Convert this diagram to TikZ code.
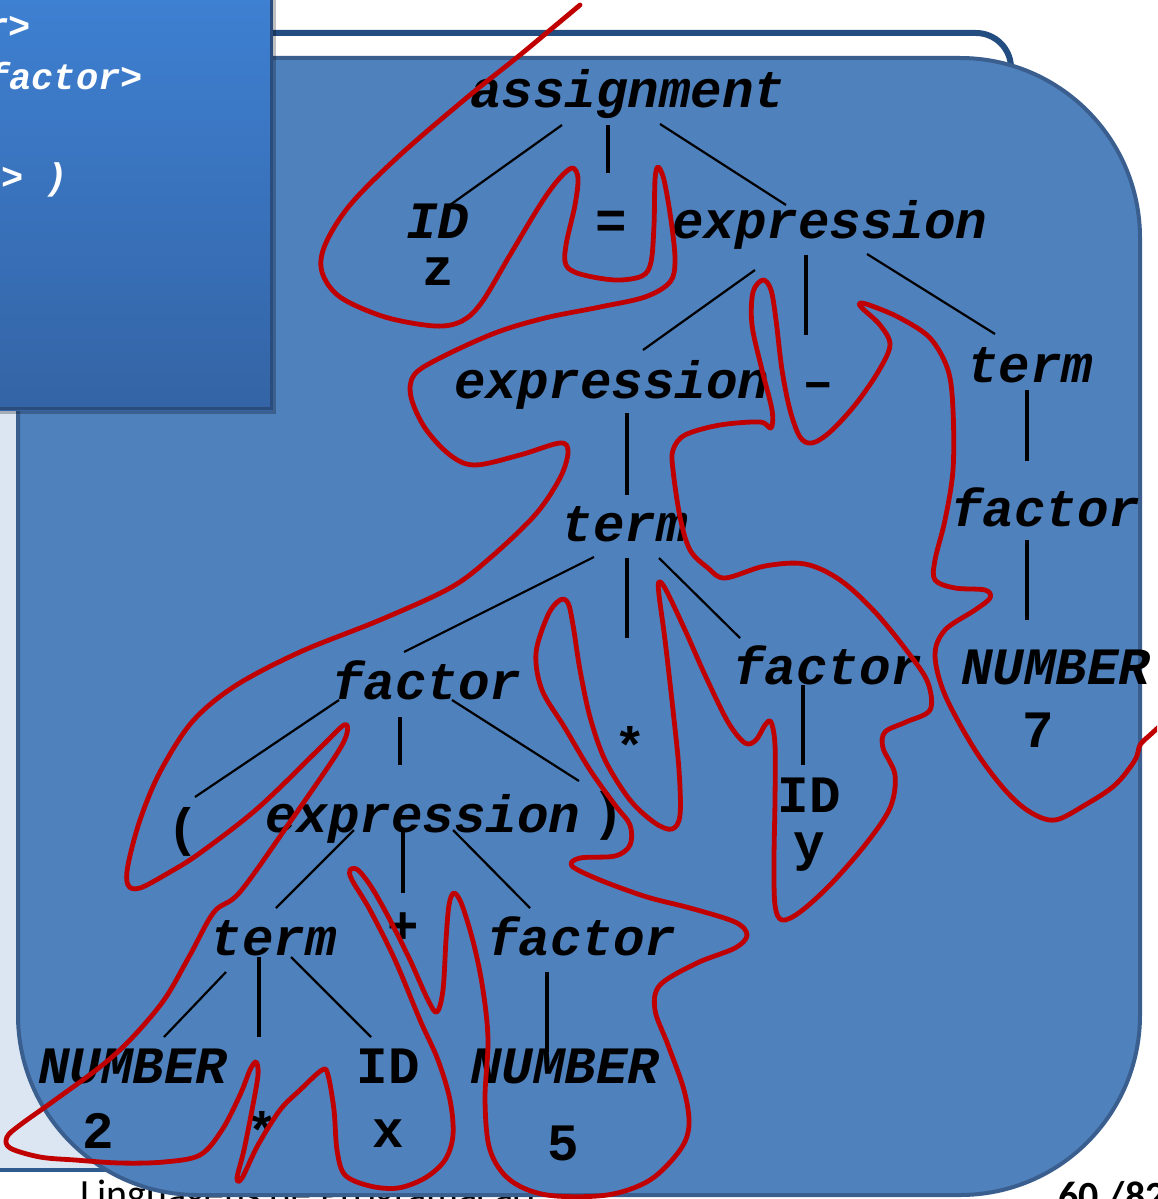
\documentclass[tikz,border=0pt]{standalone}
\usepackage{fontspec}
\setmonofont{Liberation Mono}
\newfontfamily\footfont{Carlito}
\definecolor{shapefill}{HTML}{4F81BD}
\definecolor{shapeedge}{HTML}{3A5F8F}
\definecolor{outline}{HTML}{234C80}
\definecolor{lightbg}{HTML}{DCE6F2}
\definecolor{poptop}{HTML}{3E80D2}
\definecolor{popbot}{HTML}{3464A5}
\definecolor{popedge}{HTML}{2A4D7E}
\definecolor{redline}{HTML}{C00000}
\definecolor{footline}{HTML}{2F5B8F}
\begin{document}
\begin{tikzpicture}[x=1pt,y=-1pt,
  lab/.style={font=\fontsize{52.5}{60}\selectfont\ttfamily\bfseries\itshape, inner sep=0pt, anchor=base, text=black, text height=30pt, text depth=8pt},
  labu/.style={font=\fontsize{52.5}{60}\selectfont\ttfamily\bfseries, inner sep=0pt, anchor=base, text=black, text height=30pt, text depth=8pt},
  poptext/.style={font=\fontsize{37}{44}\selectfont\ttfamily\bfseries\itshape, inner sep=0pt, anchor=base east, text=white},
  foot/.style={font=\fontsize{40}{48}\selectfont\footfont, inner sep=0pt, anchor=base west, text=black},
  edge/.style={line width=2.2pt, black},
  vedge/.style={line width=3.6pt, black},
  frontier/.style={line width=4.8pt, draw=redline, line join=round, line cap=round},
  ]
\useasboundingbox (0,0) rectangle (1157,1199);
\clip (0,0) rectangle (1157,1199);
\fill[white] (0,0) rectangle (1157,1199);

% slide placeholder at left
\fill[lightbg] (0,400) rectangle (400,1168);
\draw[footline, line width=4pt] (0,1170) -- (400,1170);

% footer texts (partly hidden)
\node[foot] (foottext) at (80,1207) {Linguagens de Programação};
\node[foot, font=\fontsize{40}{48}\selectfont\footfont\bfseries] (pagenum) at (1058,1209) {60 /82};

% outline shape behind
\draw[outline, line width=6pt] (250,33) -- (976,33) arc[start angle=-90, end angle=0, radius=35] -- (1011,140);

% main rounded shape
\draw[fill=shapefill, draw=shapeedge, line width=4pt, rounded corners=180pt] (18,58) rectangle (1140,1195);

% popup box
\fill[black, opacity=0.25] (-5,-5) rectangle (276,414);
\shade[top color=poptop, bottom color=popbot] (-5,-5) rectangle (272,410);
\draw[popedge, line width=3pt] (-5,408) -- (271,408) -- (271,-5);
\begin{scope}
\clip (-5,-5) rectangle (269,406);
\node[poptext] (p1) at (31,39) {r>};
\node[poptext] (p2) at (143,89) {factor>};
\node[poptext] (p3) at (68,189) {n> )};
\end{scope}

% tree labels
\node[lab]  (assign) at (628,107) {assignment};
\node[lab]  (id1)    at (438,238) {ID};
\node[labu, text height=22pt, text depth=0pt] (zz) at (438,285) {z};
\node[labu] (eq)     at (611,238) {=};
\node[lab]  (expA)   at (830,238) {expression};
\node[lab]  (expB)   at (612,398) {expression};
\node[labu] (minus)  at (818,398) {\textendash};
\node[lab]  (termA)  at (1030,382) {term};
\node[lab]  (termB)  at (625,541) {term};
\node[lab]  (factA)  at (1046,526) {factor};
\node[lab]  (factB)  at (427,699) {factor};
\node[labu] (starA)  at (630,764) {*};
\node[lab]  (factC)  at (828,684) {factor};
\node[lab]  (numA)   at (1056,684) {NUMBER};
\node[labu] (seven)  at (1038,747) {7};
\node[labu] (lpar)   at (183,845) {(};
\node[lab]  (expC)   at (423,832) {expression};
\node[labu] (rpar)   at (608,829) {)};
\node[labu] (id2)    at (809,812) {ID};
\node[labu, text height=22pt] (yy) at (809,860) {y};
\node[lab]  (termC)  at (274,955) {term};
\node[labu] (plus)   at (403,943) {+};
\node[lab]  (factD)  at (582,955) {factor};
\node[lab]  (numB)   at (133,1083) {NUMBER};
\node[labu] (two)    at (98,1148) {2};
\node[labu] (starB)  at (262,1149) {*};
\node[labu] (id3)    at (388,1083) {ID};
\node[labu, text height=22pt] (xx) at (388,1147) {x};
\node[lab]  (numC)   at (565,1083) {NUMBER};
\node[labu] (five)   at (563,1160) {5};

% connector end points
\coordinate (a1) at (562,125); \coordinate (b1) at (450,205);
\coordinate (a2) at (608,125); \coordinate (b2) at (608,173);
\coordinate (a3) at (660,124); \coordinate (b3) at (786,205);
\coordinate (a4) at (755,270); \coordinate (b4) at (643,350);
\coordinate (a5) at (806,255); \coordinate (b5) at (806,335);
\coordinate (a6) at (867,254); \coordinate (b6) at (995,334);
\coordinate (a7) at (1027,390); \coordinate (b7) at (1027,461);
\coordinate (a8) at (1027,540); \coordinate (b8) at (1027,620);
\coordinate (a9) at (627,413); \coordinate (b9) at (627,495);
\coordinate (a10) at (594,557); \coordinate (b10) at (404,652);
\coordinate (a11) at (627,558); \coordinate (b11) at (627,638);
\coordinate (a12) at (659,558); \coordinate (b12) at (740,638);
\coordinate (a13) at (339,700); \coordinate (b13) at (195,797);
\coordinate (a14) at (400,717); \coordinate (b14) at (400,765);
\coordinate (a15) at (452,700); \coordinate (b15) at (579,781);
\coordinate (a16) at (803,685); \coordinate (b16) at (803,765);
\coordinate (a17) at (354,830); \coordinate (b17) at (276,908);
\coordinate (a18) at (403,830); \coordinate (b18) at (403,893);
\coordinate (a19) at (453,830); \coordinate (b19) at (530,908);
\coordinate (a20) at (226,972); \coordinate (b20) at (164,1037);
\coordinate (a21) at (259,957); \coordinate (b21) at (259,1037);
\coordinate (a22) at (291,957); \coordinate (b22) at (371,1037);
\coordinate (a23) at (547,972); \coordinate (b23) at (547,1052);

\draw[edge] (a1) -- (b1);
\draw[vedge] (a2) -- (b2);
\draw[edge] (a3) -- (b3);
\draw[edge] (a4) -- (b4);
\draw[vedge] (a5) -- (b5);
\draw[edge] (a6) -- (b6);
\draw[vedge] (a7) -- (b7);
\draw[vedge] (a8) -- (b8);
\draw[vedge] (a9) -- (b9);
\draw[edge] (a10) -- (b10);
\draw[vedge] (a11) -- (b11);
\draw[edge] (a12) -- (b12);
\draw[edge] (a13) -- (b13);
\draw[vedge] (a14) -- (b14);
\draw[edge] (a15) -- (b15);
\draw[vedge] (a16) -- (b16);
\draw[edge] (a17) -- (b17);
\draw[vedge] (a18) -- (b18);
\draw[edge] (a19) -- (b19);
\draw[edge] (a20) -- (b20);
\draw[vedge] (a21) -- (b21);
\draw[edge] (a22) -- (b22);
\draw[vedge] (a23) -- (b23);

% red frontier curve
\draw[frontier] plot[smooth, tension=0.55] coordinates {
(580,5) (520,55) (470,95) (400,155) (350,205) (325,245) (322,272) (340,297)
(385,317) (435,326) (462,321) (482,302) (510,255) (540,205) (558,180) (572,168)
(578,178) (575,205) (566,245) (566,265) (580,274) (615,280) (642,276) (651,262)
(654,225) (655,180) (658,167) (664,180) (671,220) (675,260) (670,282) (645,297)
(600,307) (545,318) (495,333) (440,358) (414,375) (411,397) (425,428) (450,455)
(475,465) (520,455) (560,443) (568,452) (560,478) (535,515) (490,558) (450,588)
(380,620) (300,652) (235,686) (192,722) (160,772) (140,820) (128,865) (128,885)
(140,888) (170,872) (200,853) (258,808) (320,748) (344,725) (347,733) (336,755)
(290,822) (240,892) (214,912) (190,955) (164,1000) (130,1040) (100,1067) (55,1100)
(20,1125) (7,1137) (10,1148) (40,1157) (75,1160) (120,1163) (164,1162) (200,1155)
(222,1130) (240,1095) (250,1070) (256,1062) (258,1075) (252,1110) (244,1150) (237,1178)
(242,1178) (258,1145) (280,1110) (300,1090) (322,1070) (328,1075) (334,1110) (337,1150)
(345,1175) (370,1186) (398,1188) (425,1178) (445,1160) (453,1135) (450,1100) (438,1060)
(420,1020) (395,960) (370,910) (352,880) (350,870) (358,870) (372,888) (390,920)
(410,960) (428,1000) (437,1012) (443,990) (446,940) (449,905) (454,893) (462,905)
(474,945) (483,990) (488,1040) (485,1100) (490,1150) (510,1180) (547,1195) (607,1195)
(650,1180) (680,1150) (689,1125) (684,1090) (668,1045) (655,1010) (660,985) (697,963)
(735,948) (747,935) (735,922) (690,908) (647,897) (600,880) (572,866) (580,858)
(615,856) (630,845) (630,825) (615,805) (590,770) (565,728) (542,690) (536,653)
(548,615) (560,600) (568,603) (573,625) (580,670) (590,717) (605,760) (630,800)
(655,823) (672,829) (680,815) (679,770) (673,710) (665,640) (659,595) (659,582)
(666,590) (685,630) (705,675) (728,722) (745,743) (756,740) (765,725) (771,722)
(775,745) (775,800) (774,860) (775,905) (782,920) (800,912) (830,885) (865,845)
(890,808) (895,775) (883,748) (885,732) (906,722) (930,710) (928,683) (910,655)
(875,612) (840,580) (805,564) (765,566) (725,578) (708,568) (690,550) (680,517)
(673,470) (673,450) (685,435) (720,425) (760,422) (771,428) (772,410) (762,370)
(752,325) (753,292) (763,280) (771,290) (776,320) (782,370) (790,410) (800,437)
(812,443) (830,432) (855,405) (878,372) (890,345) (880,325) (862,308) (860,303)
(872,306) (900,318) (930,338) (948,370) (953,410) (953,470) (945,520) (935,560)
(935,580) (955,588) (985,590) (990,598) (975,610) (945,630) (935,655) (945,695)
(975,750) (1005,790) (1030,812) (1055,820) (1085,805) (1115,785) (1135,760) (1140,745)
(1150,735) (1160,726)};
\end{tikzpicture}
\end{document}
